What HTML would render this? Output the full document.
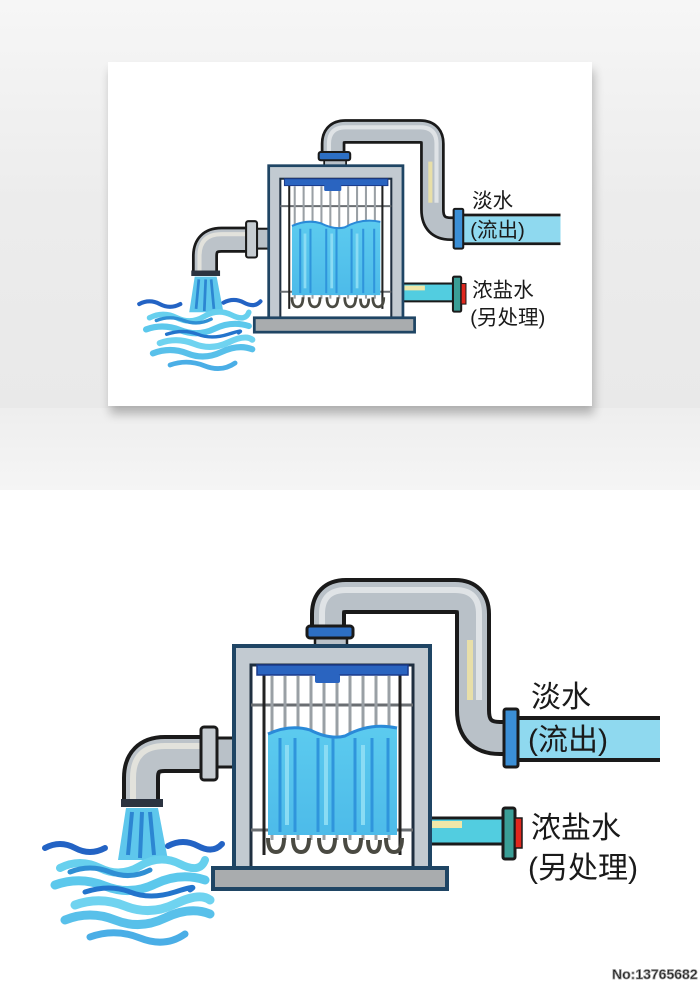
<!DOCTYPE html>
<html><head><meta charset="utf-8"><style>
html,body{margin:0;padding:0;width:700px;height:985px;overflow:hidden;background:#fff}
svg{display:block}
text{font-family:"Liberation Sans","Noto Sans CJK SC",sans-serif;fill:#1a1a1a}
</style></head><body>
<svg width="700" height="985" viewBox="0 0 700 985" xmlns="http://www.w3.org/2000/svg">
<defs>
<linearGradient id="bg" x1="0" y1="0" x2="0" y2="1">
<stop offset="0" stop-color="#f6f6f6"/><stop offset="0.5" stop-color="#ececec"/><stop offset="1" stop-color="#e9e9e9"/>
</linearGradient>
<linearGradient id="bg2" x1="0" y1="0" x2="0" y2="1">
<stop offset="0" stop-color="#eeeeee"/><stop offset="1" stop-color="#f5f5f5"/>
</linearGradient>
<filter id="sh" x="-10%" y="-10%" width="120%" height="130%"><feGaussianBlur stdDeviation="5"/></filter>
<linearGradient id="water" x1="0" y1="0" x2="0" y2="1">
<stop offset="0" stop-color="#5ccbef"/><stop offset="1" stop-color="#4dbbe9"/>
</linearGradient>
<g id="d">
  <path d="M328 628 L328 614 Q328 596 346 596 L455 596 Q473 596 473 614 L473 710 Q473 738 500 738 L506 738" fill="none" stroke="#1a1a1a" stroke-width="36" stroke-linejoin="round"/>
  <path d="M328 628 L328 614 Q328 596 346 596 L455 596 Q473 596 473 614 L473 710 Q473 738 500 738 L506 738" fill="none" stroke="#b9c1c8" stroke-width="28" stroke-linejoin="round"/>
  <path d="M322 628 L322 614 Q322 590 346 590 L455 590 Q479 590 479 614 L479 700" fill="none" stroke="#dfe3e6" stroke-width="6"/>
  <path d="M470 640 L470 700" stroke="#e8dfa8" stroke-width="6"/>
  <rect x="517" y="720" width="143" height="38" fill="#8fd9ef"/>
  <line x1="517" y1="718" x2="660" y2="718" stroke="#1a1a1a" stroke-width="4"/>
  <line x1="517" y1="760" x2="660" y2="760" stroke="#1a1a1a" stroke-width="4"/>
  <rect x="504" y="709" width="14" height="58" rx="2" fill="#3b8fd6" stroke="#1a1a1a" stroke-width="3"/>
  <rect x="430" y="818" width="74" height="26" fill="#52cde0" stroke="#1a1a1a" stroke-width="3"/>
  <rect x="432" y="821" width="30" height="7" fill="#f0e7a8"/>
  <rect x="503" y="808" width="12" height="51" rx="2" fill="#3a9e96" stroke="#1a1a1a" stroke-width="3"/>
  <rect x="515" y="818" width="7" height="30" fill="#e0281e" stroke="#1a1a1a" stroke-width="1.5"/>
  <rect x="214" y="738" width="22" height="29" fill="#b9c1c8" stroke="#1a1a1a" stroke-width="3"/>
  <path d="M205 754 L165 754 Q141 754 141 778 L141 801" fill="none" stroke="#1a1a1a" stroke-width="38"/>
  <path d="M205 754 L165 754 Q141 754 141 778 L141 801" fill="none" stroke="#bcc3c9" stroke-width="30"/>
  <path d="M205 746 L165 746 Q133 746 133 778 L133 800" fill="none" stroke="#e2e2dc" stroke-width="6"/>
  <rect x="201" y="727" width="16" height="53" rx="3" fill="#c6ccd1" stroke="#1a1a1a" stroke-width="3"/>
  <rect x="121" y="799" width="42" height="8" fill="#2b3340"/>
  <path d="M126 808 L118 860 L168 860 L158 808 Z" fill="#5ec7ec"/>
  <path d="M132 812 L128 855 M142 812 L140 858 M150 812 L154 855" stroke="#2c86d2" stroke-width="4"/>
  <g fill="none" stroke-linecap="round">
    <path d="M45 848 Q60 840 75 848 T105 848" stroke="#2363c4" stroke-width="6"/>
    <path d="M168 846 Q183 838 198 846 T222 844" stroke="#2363c4" stroke-width="6"/>
    <path d="M60 868 Q80 858 100 868 T140 866 T180 864 T205 860" stroke="#67d0ee" stroke-width="8"/>
    <path d="M70 872 Q90 864 110 872 T150 870" stroke="#2f8fd4" stroke-width="5"/>
    <path d="M55 885 Q80 876 105 886 T155 884 T205 880" stroke="#5cc8ec" stroke-width="9"/>
    <path d="M85 892 Q110 884 130 892 T175 892 T190 890" stroke="#2374cc" stroke-width="5"/>
    <path d="M75 905 Q100 896 125 906 T175 904 T210 900" stroke="#6fd3f0" stroke-width="9"/>
    <path d="M65 920 Q90 910 115 920 T165 918 T210 914" stroke="#58c0ea" stroke-width="9"/>
    <path d="M90 937 Q115 928 140 938 T185 934" stroke="#4aaee6" stroke-width="7"/>
  </g>
  <rect x="315" y="636" width="32" height="10" fill="#b9c1c8" stroke="#1a1a1a" stroke-width="2.5"/>
  <rect x="307" y="626" width="46" height="12" rx="3" fill="#2d6fc4" stroke="#1a1a1a" stroke-width="3"/>
  <rect x="234" y="646" width="196" height="224" fill="#c2cad1" stroke="#1f4564" stroke-width="4"/>
  <rect x="251" y="665" width="162" height="205" fill="#ffffff" stroke="#1f2f40" stroke-width="3"/>
  <line x1="251" y1="705" x2="413" y2="705" stroke="#6a6e72" stroke-width="3"/>
  <line x1="251" y1="830" x2="413" y2="830" stroke="#6a6e72" stroke-width="3"/>
  <line x1="264" y1="675" x2="264" y2="855" stroke="#222" stroke-width="3"/>
  <line x1="400" y1="675" x2="400" y2="855" stroke="#222" stroke-width="3"/>
  <g stroke="#9aa0a5" stroke-width="3">
    <line x1="272" y1="676" x2="272" y2="840"/><line x1="285" y1="676" x2="285" y2="840"/>
    <line x1="298" y1="676" x2="298" y2="840"/><line x1="311" y1="676" x2="311" y2="840"/>
    <line x1="324" y1="676" x2="324" y2="840"/><line x1="337" y1="676" x2="337" y2="840"/>
    <line x1="350" y1="676" x2="350" y2="840"/><line x1="363" y1="676" x2="363" y2="840"/>
    <line x1="376" y1="676" x2="376" y2="840"/><line x1="389" y1="676" x2="389" y2="840"/>
  </g>
  <path d="M268 734 Q290 724 310 730 Q330 740 345 736 Q370 722 397 728 L397 835 L268 835 Z" fill="url(#water)"/>
  <path d="M268 734 Q290 724 310 730 Q330 740 345 736 Q370 722 397 728" fill="none" stroke="#2a8ad8" stroke-width="3"/>
  <g stroke="#2f95dc" stroke-width="3">
    <line x1="280" y1="738" x2="280" y2="832"/><line x1="295" y1="738" x2="295" y2="832"/>
    <line x1="318" y1="738" x2="318" y2="832"/><line x1="333" y1="738" x2="333" y2="832"/>
    <line x1="355" y1="738" x2="355" y2="832"/><line x1="372" y1="738" x2="372" y2="832"/>
    <line x1="388" y1="738" x2="388" y2="832"/>
  </g>
  <g stroke="#8adcf4" stroke-width="4">
    <line x1="287" y1="745" x2="287" y2="825"/><line x1="326" y1="745" x2="326" y2="825"/><line x1="363" y1="745" x2="363" y2="825"/>
  </g>
  <g fill="none" stroke="#4a4a42" stroke-width="4">
    <path d="M268 838 Q268 852 276 852 Q284 852 284 838"/>
    <path d="M293 838 Q293 852 301 852 Q309 852 309 838"/>
    <path d="M319 838 Q319 852 327 852 Q335 852 335 838"/>
    <path d="M345 838 Q345 852 353 852 Q361 852 361 838"/>
    <path d="M368 840 Q368 852 374 852 Q380 852 380 840"/>
    <path d="M386 838 Q386 852 394 852 Q402 852 402 838"/>
  </g>
  <rect x="257" y="665" width="151" height="10" fill="#2a64c0" stroke="#1a3a8a" stroke-width="1.5"/>
  <rect x="315" y="674" width="25" height="9" rx="2" fill="#2a64c0"/>
  <rect x="213" y="868" width="234" height="21" fill="#a9acae" stroke="#1f4564" stroke-width="4"/>
  <text x="531" y="707" font-size="30">淡水</text>
  <text x="528" y="750" font-size="30">(流出)</text>
  <text x="531" y="838" font-size="30">浓盐水</text>
  <text x="528" y="878" font-size="30">(另处理)</text>
</g>
</defs>
<rect x="0" y="0" width="700" height="408" fill="url(#bg)"/>
<rect x="0" y="408" width="700" height="82" fill="url(#bg2)"/>
<rect x="110" y="70" width="484" height="344" fill="#000" opacity="0.25" filter="url(#sh)"/>
<rect x="108" y="62" width="484" height="344" fill="#ffffff"/>
<use href="#d" transform="translate(108.4,-276.8) scale(0.685)"/>
<rect x="0" y="490" width="700" height="495" fill="#ffffff"/>
<use href="#d"/>
<text x="612" y="979" font-size="14" font-weight="bold" fill="#ffffff" stroke="#9a9a9a" stroke-width="0.8">No:13765682</text>
</svg>
</body></html>
